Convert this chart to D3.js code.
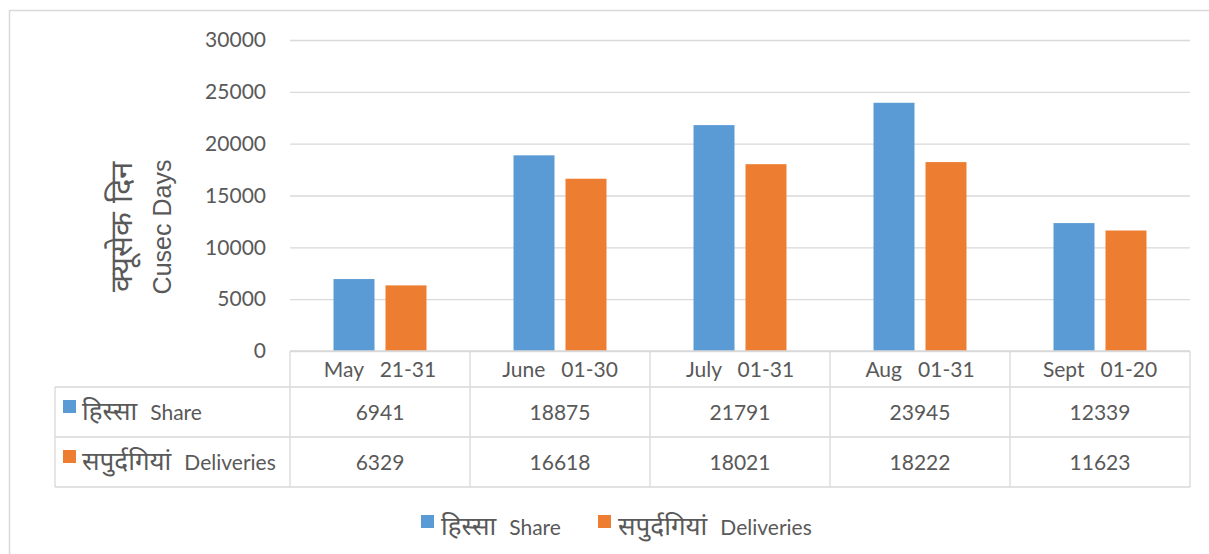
<!DOCTYPE html>
<html>
<head>
<meta charset="utf-8">
<script src="https://cdn.jsdelivr.net/npm/d3@7"></script>
<style>
  body { margin: 0; background: #fff; }
  svg text { font-family: Lato, "Noto Sans", sans-serif; fill: #595959; }
</style>
</head>
<body>
<div id="chart"></div>
<script>
var categories = ["May   21-31", "June   01-30", "July   01-31", "Aug   01-31", "Sept   01-20"];
var shareValues = [6941, 18875, 21791, 23945, 12339];
var deliveryValues = [6329, 16618, 18021, 18222, 11623];
var yTicks = [0, 5000, 10000, 15000, 20000, 25000, 30000];
var seriesHindi = ["हिस्सा", "सपुर्दगियां"];
var seriesEnglish = ["Share", "Deliveries"];
var seriesKeys = ["share", "deliveries"];
var colors = ["#5b9bd5", "#ed7d31"];

var data = categories.map(function(c, i) {
  return { cat: c, share: shareValues[i], deliveries: deliveryValues[i] };
});

var w = 1209, h = 554;
var plotLeft = 290, plotRight = 1190, plotTop = 40, plotBottom = 351;
var rowH = [36, 50, 50];
var fs = 21, hindiFs = 26;

var svg = d3.select('#chart').append('svg')
  .attr('width', w)
  .attr('height', h);

// outer chart border
svg.append('rect')
  .attr('x', 9.5).attr('y', 10.5)
  .attr('width', 1210).attr('height', 560)
  .attr('fill', 'none').attr('stroke', '#d9d9d9').attr('stroke-width', 1.5);

var xscale = d3.scaleBand()
  .domain(categories)
  .range([plotLeft, plotRight])
  .paddingInner(0).paddingOuter(0);

var xsub = d3.scaleBand()
  .domain(seriesKeys)
  .range([0, xscale.bandwidth()])
  .paddingInner(0.2115)
  .paddingOuter(0.837);

var yscale = d3.scaleLinear()
  .domain([0, 30000])
  .range([plotBottom, plotTop]);

// gridlines + y labels
var yaxis = d3.axisLeft(yscale).tickValues(yTicks).tickSize(-(plotRight - plotLeft)).tickPadding(24).tickFormat(d3.format('d'));
var gy = svg.append('g')
  .attr('transform', 'translate(' + plotLeft + ',0)')
  .call(yaxis);
gy.select('.domain').remove();
gy.selectAll('.tick line').attr('stroke', '#d9d9d9').attr('stroke-width', 1.3);
gy.selectAll('.tick text').attr('font-size', fs).attr('font-family', 'Lato, sans-serif').style('fill', '#595959');

// bars
svg.selectAll('g.cat')
  .data(data)
  .enter()
  .append('g')
    .attr('class', 'cat')
    .attr('transform', function(d) { return 'translate(' + xscale(d.cat) + ',0)'; })
  .selectAll('rect')
  .data(function(d) { return seriesKeys.map(function(k, j) { return { key: k, value: d[k], color: colors[j] }; }); })
  .enter()
  .append('rect')
    .attr('x', function(d) { return xsub(d.key); })
    .attr('y', function(d) { return yscale(d.value); })
    .attr('width', xsub.bandwidth())
    .attr('height', function(d) { return yscale(0) - yscale(d.value); })
    .attr('fill', function(d) { return d.color; });

// data table
var tableLeft = 55;
var y0 = plotBottom, y1 = plotBottom + rowH[0], y2 = y1 + rowH[1], y3 = y2 + rowH[2];
var tbl = svg.append('g').attr('class', 'table')
  .attr('stroke', '#d9d9d9').attr('stroke-width', 1.3).attr('fill', 'none');

tbl.append('line').attr('x1', plotLeft).attr('x2', plotRight).attr('y1', y0).attr('y2', y0);
[y1, y2, y3].forEach(function(yy) {
  tbl.append('line').attr('x1', tableLeft).attr('x2', plotRight).attr('y1', yy).attr('y2', yy);
});
tbl.append('line').attr('x1', tableLeft).attr('x2', tableLeft).attr('y1', y1).attr('y2', y3);
categories.forEach(function(c) {
  tbl.append('line').attr('x1', xscale(c)).attr('x2', xscale(c)).attr('y1', y0).attr('y2', y3);
});
tbl.append('line').attr('x1', plotRight).attr('x2', plotRight).attr('y1', y0).attr('y2', y3);

// category labels
svg.selectAll('text.cat')
  .data(categories)
  .enter()
  .append('text')
    .attr('class', 'cat')
    .attr('x', function(d) { return xscale(d) + xscale.bandwidth() / 2; })
    .attr('y', (y0 + y1) / 2 + 8)
    .attr('text-anchor', 'middle')
    .attr('font-size', fs)
    .style('white-space', 'pre')
    .text(function(d) { return d; });

// series name: larger Hindi part + English part
function seriesLabel(sel, j) {
  sel.append('tspan').attr('font-size', hindiFs).text(seriesHindi[j]);
  sel.append('tspan').attr('dx', 13).attr('font-size', fs).text(seriesEnglish[j]);
}

// value rows
[shareValues, deliveryValues].forEach(function(vals, j) {
  var yc = j === 0 ? (y1 + y2) / 2 : (y2 + y3) / 2;
  svg.append('rect')
    .attr('x', 63).attr('y', yc - 12).attr('width', 13).attr('height', 13)
    .attr('fill', colors[j]);
  svg.append('text')
    .attr('x', 82).attr('y', yc + 8)
    .call(seriesLabel, j);
  svg.selectAll('text.v' + j)
    .data(vals)
    .enter()
    .append('text')
      .attr('class', 'v' + j)
      .attr('x', function(d, i) { return xscale(categories[i]) + xscale.bandwidth() / 2; })
      .attr('y', yc + 8)
      .attr('text-anchor', 'middle')
      .attr('font-size', fs)
      .text(function(d) { return d; });
});

// y axis title
var yt = svg.append('text')
  .attr('transform', 'translate(0,227) rotate(-90)')
  .attr('text-anchor', 'middle')
  .style('font-family', '"Liberation Sans", Arial, sans-serif');
yt.append('tspan').attr('x', 0).attr('y', 132).attr('font-size', 31).text('क्यूसेक दिन');
yt.append('tspan').attr('x', 0).attr('y', 171).attr('font-size', 25).text('Cusec Days');

// legend
var legendX = [421, 598];
seriesKeys.forEach(function(k, j) {
  svg.append('rect')
    .attr('x', legendX[j]).attr('y', 515).attr('width', 13).attr('height', 13)
    .attr('fill', colors[j]);
  svg.append('text')
    .attr('x', legendX[j] + 20).attr('y', 535)
    .call(seriesLabel, j);
});
</script>
</body>
</html>
